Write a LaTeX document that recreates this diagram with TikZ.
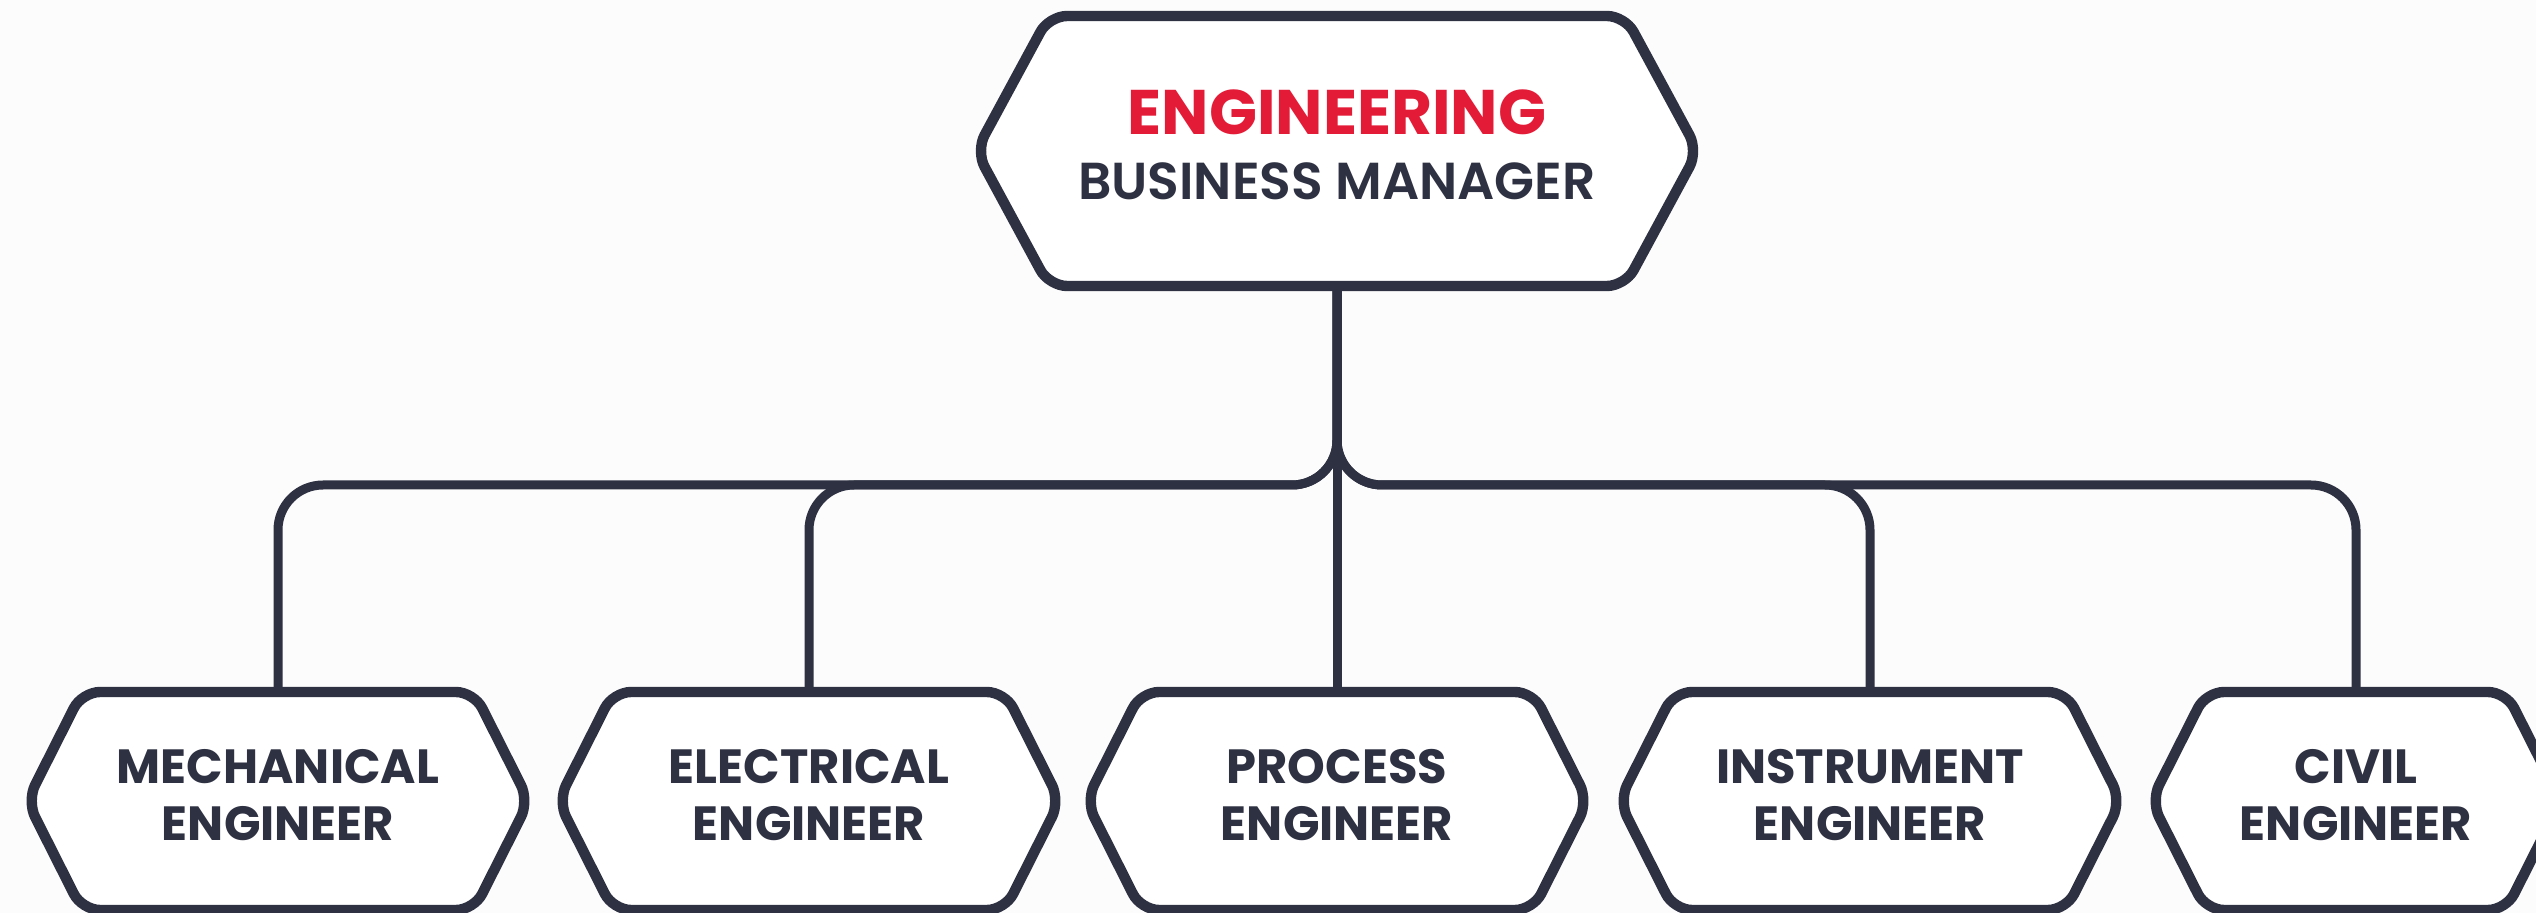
\documentclass[tikz,border=0pt]{standalone}
\usepackage{fontspec}
\setmainfont{Poppins}
\newfontfamily\popsemi{Poppins SemiBold}
\newfontfamily\popbold{Poppins Bold}
\definecolor{ink}{RGB}{46,49,66}
\definecolor{brand}{RGB}{228,27,55}
\definecolor{bgc}{RGB}{252,252,252}
\tikzset{
  hexline/.style={draw=ink, line width=5.2pt, fill=white, rounded corners=9pt, line join=round},
  wire/.style={draw=ink, line width=4.5pt, rounded corners=22.5pt},
  lbl/.style={text=ink, font=\fontsize{24}{28.5}\selectfont\popbold, align=center, inner sep=0pt},
  toplbl/.style={inner sep=0pt, anchor=base}
}
\newcommand\hexshape[6]{%
  \begin{scope}[shift={(#2,#3)}]
    \draw[hexline] (-#4,-#6) -- (#4,-#6) -- (#5,0) -- (#4,#6) -- (-#4,#6) -- (-#5,0) -- cycle;
    \coordinate (#1) at (0,0);
    \coordinate (#1n) at (0,-#6);
    \coordinate (#1s) at (0,#6);
  \end{scope}}
\begin{document}
\begin{tikzpicture}[x=0.5pt,y=-0.5pt]
\path[fill=bgc,use as bounding box] (0,0) rectangle (2536,913);
% anchor coordinates for connectors
\coordinate (topS) at (1337,286);
\coordinate (bus) at (0,485);
\coordinate (c1n) at (278,692);
\coordinate (c2n) at (809,692);
\coordinate (c3n) at (1337,692);
\coordinate (c4n) at (1870,692);
\coordinate (c5n) at (2356,692);
% connectors
\draw[wire] (topS) -- (topS |- bus) -- (c1n |- bus) -- (c1n);
\draw[wire] (topS) -- (topS |- bus) -- (c2n |- bus) -- (c2n);
\draw[wire] (topS) -- (c3n);
\draw[wire] (topS) -- (topS |- bus) -- (c4n |- bus) -- (c4n);
\draw[wire] (topS) -- (topS |- bus) -- (c5n |- bus) -- (c5n);
% boxes
\hexshape{top}{1337}{151}{288}{361}{135}
\hexshape{c1}{278}{801}{196}{251}{109}
\hexshape{c2}{809}{801}{196}{251}{109}
\hexshape{c3}{1337}{801}{196}{251}{109}
\hexshape{c4}{1870}{801}{196}{251}{109}
\hexshape{c5}{2356}{801}{150}{205}{109}
% texts
\node[toplbl, text=brand, font=\fontsize{31.5}{31.5}\selectfont\popbold] (topt1) at (1337,135) {ENGINEERING};
\node[toplbl, text=ink, font=\fontsize{26}{26}\selectfont\popsemi] (topt2) at (1337,200) {BUSINESS MANAGER};
\node[lbl] (c1t) at (278,795) {MECHANICAL\\ENGINEER};
\node[lbl] (c2t) at (809,795) {ELECTRICAL\\ENGINEER};
\node[lbl] (c3t) at (1337,795) {PROCESS\\ENGINEER};
\node[lbl] (c4t) at (1870,795) {INSTRUMENT\\ENGINEER};
\node[lbl] (c5t) at (2356,795) {CIVIL\\ENGINEER};
\end{tikzpicture}
\end{document}
